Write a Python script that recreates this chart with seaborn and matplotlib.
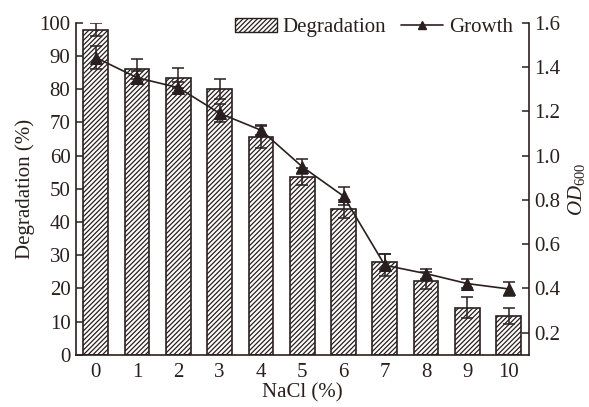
import matplotlib
matplotlib.use("Agg")
import matplotlib.pyplot as plt
import seaborn as sns
import numpy as np
import pandas as pd
from matplotlib.patches import Patch
from matplotlib.lines import Line2D

nacl = ["0", "1", "2", "3", "4", "5", "6", "7", "8", "9", "10"]
degradation = [97.9, 86.2, 83.5, 80.2, 65.5, 53.7, 43.9, 28.1, 22.4, 14.2, 11.7]
degradation_err = [2.0, 3.0, 3.0, 3.0, 3.3, 2.5, 2.8, 2.3, 2.5, 3.1, 2.5]
growth = [1.443, 1.352, 1.307, 1.191, 1.115, 0.95, 0.817, 0.505, 0.467, 0.422, 0.398]
growth_err = [0.05, 0.03, 0.025, 0.04, 0.023, 0.033, 0.04, 0.05, 0.022, 0.022, 0.03]

dark = "#2a1f1f"

sns.set_theme(style="ticks")
plt.rcParams["font.family"] = ["Liberation Serif", "DejaVu Serif"]
plt.rcParams["mathtext.fontset"] = "custom"
plt.rcParams["mathtext.it"] = "Liberation Serif:italic"
plt.rcParams["mathtext.rm"] = "Liberation Serif"
plt.rcParams["hatch.color"] = dark
plt.rcParams["hatch.linewidth"] = 0.9

df = pd.DataFrame({"NaCl": nacl, "Degradation": degradation})

fig = plt.figure(figsize=(5.89, 4.07), dpi=100)
ax = fig.add_axes([0.129, 0.128, 0.769, 0.816])

sns.barplot(data=df, x="NaCl", y="Degradation", ax=ax, color="white",
            edgecolor=dark, linewidth=1.2, width=0.6, hatch="///////",
            errorbar=None, zorder=2)
xpos = np.arange(len(nacl))
ax.errorbar(xpos, degradation, yerr=degradation_err, fmt="none",
            ecolor=dark, elinewidth=1.1, capsize=4, capthick=1.1, zorder=3)

ax.set_ylim(0, 100)
ax.set_xlim(-0.48, len(nacl) - 0.51)
ax.set_yticks(np.arange(0, 101, 10))
ax.set_xlabel("NaCl (%)", fontsize=15, color=dark, labelpad=1)
ax.set_ylabel("Degradation (%)", fontsize=15, color=dark, labelpad=3)

ax2 = ax.twinx()
sns.lineplot(x=xpos, y=growth, ax=ax2, color=dark, linewidth=1.2,
             marker="^", markersize=8, markeredgecolor=dark, zorder=4)
ax2.errorbar(xpos, growth, yerr=growth_err, fmt="none", ecolor=dark,
             elinewidth=1.1, capsize=4, capthick=1.1, zorder=4)
ax2.set_ylim(0.1, 1.6)
ax2.set_yticks([0.2, 0.4, 0.6, 0.8, 1.0, 1.2, 1.4, 1.6])
ax2.set_yticklabels(["0.2", "0.4", "0.6", "0.8", "1.0", "1.2", "1.4", "1.6"])
ax2.set_ylabel(r"$\mathit{OD}_{600}$", fontsize=15, color=dark, labelpad=4)

for a in (ax, ax2):
    a.spines["top"].set_visible(False)
    for s in a.spines.values():
        s.set_color(dark)
        s.set_linewidth(1.2)
    a.tick_params(direction="in", length=5, width=1.1, colors=dark,
                  labelsize=15, pad=4)
ax.spines["right"].set_visible(False)
ax2.spines["left"].set_visible(False)
ax2.spines["bottom"].set_visible(False)
ax.tick_params(axis="x", length=4, pad=6)

handles = [Patch(facecolor="white", edgecolor=dark, hatch="///////", linewidth=1.0),
           Line2D([0], [0], color=dark, marker="^", markersize=6, linewidth=1.2)]
leg = ax2.legend(handles, ["Degradation", "Growth"], loc="upper right",
                 bbox_to_anchor=(0.983, 1.04), ncol=2, frameon=False,
                 fontsize=15, handlelength=2.0, handletextpad=0.3,
                 columnspacing=0.7, borderaxespad=0.0)
for t in leg.get_texts():
    t.set_color(dark)

fig.savefig("out.png", dpi=100)
